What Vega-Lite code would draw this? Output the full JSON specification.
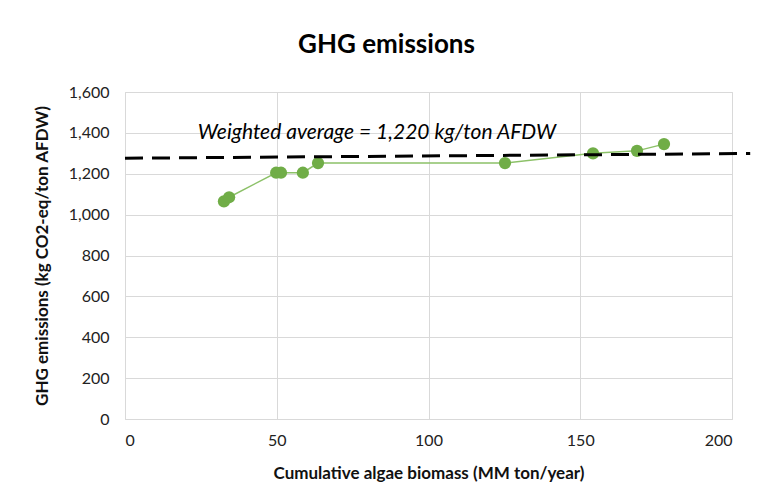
{
  "$schema": "https://vega.github.io/schema/vega-lite/v6.json",
  "autosize": "none",
  "width": 607,
  "height": 327,
  "padding": {"left": 125, "top": 92, "right": 32, "bottom": 78},
  "background": "white",
  "title": {"text": "GHG emissions", "font": "Lato", "fontSize": 26, "fontWeight": "bold", "color": "black", "offset": 26, "dx": -42},
  "datasets": {
    "pts": [
      {"biomass": 32.6, "ghg": 1065},
      {"biomass": 34.3, "ghg": 1085},
      {"biomass": 49.8, "ghg": 1205},
      {"biomass": 51.4, "ghg": 1205},
      {"biomass": 58.6, "ghg": 1205},
      {"biomass": 63.6, "ghg": 1252},
      {"biomass": 125.2, "ghg": 1252},
      {"biomass": 154.2, "ghg": 1300},
      {"biomass": 168.7, "ghg": 1312},
      {"biomass": 177.6, "ghg": 1345}
    ],
    "avg": [
      {"biomass": 0, "ghg": 1276},
      {"biomass": 206, "ghg": 1299}
    ],
    "lbl": [
      {"biomass": 83, "ghg": 1398, "text": "Weighted average = 1,220  kg/ton AFDW"}
    ]
  },
  "config": {
    "view": {"stroke": "#d9d9d9"},
    "axis": {"labelFont": "Lato", "titleFont": "Lato", "labelColor": "#222", "titleColor": "#111", "gridColor": "#d9d9d9", "domain": false, "ticks": false}
  },
  "layer": [
    {
      "data": {"name": "pts"},
      "mark": {"type": "line", "color": "#8cc168", "strokeWidth": 1.5},
      "encoding": {
        "x": {"field": "biomass", "type": "quantitative", "scale": {"domain": [0, 200], "nice": false},
              "axis": {"title": "Cumulative algae biomass (MM ton/year)", "values": [0, 50, 100, 150, 200], "labelFontSize": 16, "labelPadding": 13, "titleFontSize": 17, "titleFontWeight": "bold", "titlePadding": 17}},
        "y": {"field": "ghg", "type": "quantitative", "scale": {"domain": [0, 1600], "nice": false},
              "axis": {"title": "GHG emissions (kg CO2-eq/ton AFDW)", "values": [0, 200, 400, 600, 800, 1000, 1200, 1400, 1600], "format": ",.0f", "labelFontSize": 16, "labelPadding": 16, "titleFontSize": 17, "titleFontWeight": "bold", "titlePadding": 17}}
      }
    },
    {
      "data": {"name": "pts"},
      "mark": {"type": "point", "filled": true, "color": "#70ad47", "opacity": 1, "size": 150},
      "encoding": {
        "x": {"field": "biomass", "type": "quantitative"},
        "y": {"field": "ghg", "type": "quantitative"}
      }
    },
    {
      "data": {"name": "avg"},
      "mark": {"type": "line", "color": "black", "strokeWidth": 3, "strokeDash": [18, 9], "clip": false},
      "encoding": {
        "x": {"field": "biomass", "type": "quantitative"},
        "y": {"field": "ghg", "type": "quantitative"}
      }
    },
    {
      "data": {"name": "lbl"},
      "mark": {"type": "text", "font": "Lato", "fontSize": 21, "fontStyle": "italic", "color": "black", "align": "center", "baseline": "middle"},
      "encoding": {
        "x": {"field": "biomass", "type": "quantitative"},
        "y": {"field": "ghg", "type": "quantitative"},
        "text": {"field": "text"}
      }
    }
  ]
}
